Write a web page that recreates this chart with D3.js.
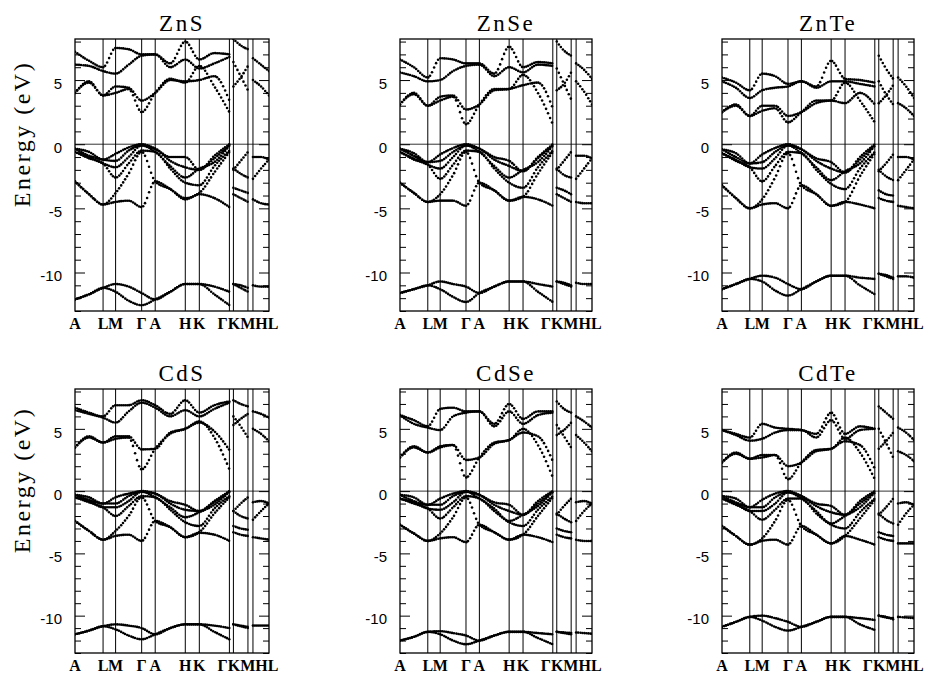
<!DOCTYPE html>
<html>
<head>
<meta charset="utf-8">
<script src="https://cdn.jsdelivr.net/npm/d3@7"></script>
<style>
  body { margin: 0; background: #fff; }
  text { fill: #000; }
</style>
</head>
<body>
<svg id="chart" width="925" height="673"></svg>
<script>
// k path of the wurtzite zone, relative distances along the path
const kLabels = ["A", "L", "M", "Γ", "A", "H", "K", "Γ", "K", "M", "H", "L"];
const kPos = [0, 28, 40.5, 66.5, 80, 110, 124, 154, 158, 172.5, 177.5, 193.5];

const kMain = [0, 14, 28, 40.5, 53.5, 66.5, 80, 95, 110, 124, 139, 154];  // A..Γ
const kKM = [158, 165.25, 172.5];   // K..M
const kHL = [177.5, 185.5, 193.5];  // H..L

const energyTicks = [5, 0, -5, -10];

// energies in eV; main path: A, A-L, L, M, M-Γ, Γ, A, A-H, H, K, K-Γ, Γ
const znsMain = [
  [-12.1, -11.7, -11.2, -10.9, -11.1, -11.6, -12.1, -11.5, -10.9, -10.9, -11.1, -11.5],
  [-12.1, -11.7, -11.2, -11.5, -12.2, -12.55, -12.1, -11.5, -10.9, -10.9, -11.7, -12.55],
  [-0.35, -0.6, -1.2, -0.75, -0.25, 0.0, -0.35, -1.0, -1.0, -2.0, -0.9, 0.0],
  [-0.35, -0.9, -1.2, -1.3, -0.5, -0.1, -0.35, -1.3, -1.8, -2.0, -1.1, -0.1],
  [-0.6, -1.0, -1.5, -1.8, -1.0, -0.1, -0.6, -1.7, -2.6, -1.9, -1.4, -0.1],
  [-0.6, -1.1, -1.5, -2.6, -1.5, -0.5, -0.6, -1.9, -3.0, -3.2, -1.7, -0.5],
  [-2.9, -3.9, -4.7, -3.8, -2.3, -0.6, -2.9, -3.5, -4.2, -3.8, -2.2, -0.6],
  [-2.9, -3.9, -4.7, -4.5, -4.4, -4.9, -2.9, -3.5, -4.3, -3.9, -4.2, -4.9],
  [4.0, 4.9, 3.8, 4.0, 4.3, 2.5, 4.0, 5.1, 4.8, 6.1, 4.5, 2.5],
  [4.0, 4.8, 3.8, 4.5, 4.4, 3.4, 4.0, 5.0, 4.9, 5.0, 5.3, 3.4],
  [6.2, 6.1, 5.7, 5.5, 6.2, 6.9, 7.0, 6.0, 6.6, 5.9, 6.3, 6.8],
  [7.2, 6.5, 6.0, 7.5, 7.4, 7.0, 7.0, 6.3, 8.0, 6.6, 7.1, 7.0]
];
const znsKM = [
  [-10.9, -11.0, -11.2], [-10.9, -11.2, -11.5],
  [-2.0, -1.3, -0.6], [-1.9, -2.3, -2.6], [-3.4, -3.6, -3.8], [-3.9, -4.2, -4.5],
  [8.2, 7.7, 7.4], [6.4, 5.3, 4.2], [4.5, 5.2, 6.1]
];
const znsHL = [
  [-11.0, -11.1, -11.1],
  [-1.0, -1.0, -1.2], [-2.7, -1.9, -1.2], [-4.3, -4.6, -4.7],
  [6.7, 6.2, 5.7], [5.0, 4.5, 3.8]
];

const znseMain = [
  [-11.6, -11.3, -11.0, -10.7, -10.9, -11.1, -11.6, -11.1, -10.7, -10.7, -10.9, -11.1],
  [-11.6, -11.3, -11.0, -11.3, -11.9, -12.3, -11.6, -11.1, -10.7, -10.7, -11.5, -12.3],
  [-0.35, -0.7, -1.4, -0.8, -0.3, 0.0, -0.35, -1.0, -1.3, -2.1, -1.0, 0.0],
  [-0.35, -0.9, -1.4, -1.3, -0.6, -0.1, -0.35, -1.2, -1.7, -2.1, -1.1, -0.1],
  [-0.6, -1.1, -1.6, -1.9, -1.0, -0.1, -0.6, -1.7, -2.6, -2.0, -1.4, -0.1],
  [-0.6, -1.2, -1.6, -2.7, -1.6, -0.5, -0.6, -1.9, -3.0, -3.4, -1.8, -0.5],
  [-3.0, -3.8, -4.5, -3.9, -2.4, -0.6, -3.0, -3.6, -4.4, -4.1, -2.3, -0.6],
  [-3.0, -3.8, -4.5, -4.4, -4.4, -4.8, -3.0, -3.6, -4.4, -4.1, -4.3, -4.8],
  [3.1, 4.0, 3.0, 3.4, 3.7, 1.55, 3.1, 4.3, 4.3, 5.4, 4.0, 1.55],
  [3.1, 3.9, 3.0, 3.7, 3.8, 2.7, 3.1, 4.2, 4.3, 4.6, 4.8, 2.8],
  [5.6, 5.3, 4.9, 5.0, 5.7, 6.1, 6.2, 5.3, 6.0, 5.6, 6.2, 6.1],
  [6.6, 6.0, 5.2, 6.7, 6.6, 6.3, 6.3, 5.5, 7.6, 6.0, 6.4, 6.3]
];
const znseKM = [
  [-10.7, -10.8, -11.0], [-10.7, -10.9, -11.1],
  [-2.0, -1.3, -0.6], [-1.9, -2.4, -2.6], [-3.4, -3.6, -3.9], [-3.9, -4.2, -4.5],
  [8.0, 7.3, 6.9], [5.9, 4.7, 3.5], [4.2, 4.7, 5.6]
];
const znseHL = [
  [-10.8, -10.9, -10.9],
  [-0.9, -0.9, -1.1], [-2.7, -1.9, -1.1], [-4.5, -4.6, -4.6],
  [6.3, 5.8, 5.1], [4.9, 4.1, 3.1]
];

const zntaMain = [
  [-11.3, -10.9, -10.5, -10.25, -10.4, -10.9, -11.3, -10.7, -10.25, -10.25, -10.4, -10.5],
  [-11.3, -10.9, -10.5, -10.7, -11.4, -11.8, -11.3, -10.7, -10.25, -10.25, -11.0, -11.7],
  [-0.4, -0.7, -1.5, -0.8, -0.3, 0.0, -0.4, -1.1, -1.4, -2.2, -1.0, 0.0],
  [-0.4, -1.0, -1.5, -1.4, -0.6, -0.1, -0.4, -1.3, -1.9, -2.2, -1.2, -0.1],
  [-0.7, -1.2, -1.8, -1.9, -1.1, -0.1, -0.7, -1.8, -2.8, -2.1, -1.5, -0.1],
  [-0.7, -1.3, -1.8, -2.9, -1.7, -0.6, -0.7, -2.0, -3.1, -3.5, -1.9, -0.6],
  [-3.2, -4.2, -5.0, -4.3, -2.6, -0.7, -3.2, -3.9, -4.8, -4.5, -2.5, -0.7],
  [-3.2, -4.2, -5.0, -4.7, -4.6, -5.0, -3.2, -3.9, -4.8, -4.5, -4.7, -5.0],
  [2.5, 3.1, 2.2, 2.6, 2.8, 1.7, 2.5, 3.4, 3.4, 4.8, 3.4, 1.7],
  [2.5, 3.0, 2.2, 3.0, 3.0, 2.2, 2.5, 3.2, 3.4, 3.2, 4.0, 3.1],
  [4.9, 4.4, 3.6, 4.2, 4.4, 4.5, 4.9, 4.4, 4.9, 4.9, 4.7, 4.5],
  [5.2, 4.8, 4.2, 5.5, 5.3, 4.7, 4.9, 4.5, 6.5, 5.1, 5.0, 4.8]
];
const zntaKM = [
  [-10.1, -10.3, -10.5], [-10.1, -10.2, -10.4],
  [-2.1, -1.5, -0.8], [-2.0, -2.5, -2.8], [-3.6, -3.9, -4.0], [-4.2, -4.4, -4.5],
  [6.9, 5.9, 5.1], [4.9, 3.9, 3.1], [3.2, 3.8, 4.6]
];
const zntaHL = [
  [-10.3, -10.3, -10.4],
  [-1.0, -1.0, -1.2], [-2.8, -2.0, -1.2], [-4.8, -4.9, -5.0],
  [5.2, 4.5, 3.6], [3.2, 2.8, 2.2]
];

const cdsMain = [
  [-11.5, -11.2, -10.85, -10.7, -10.8, -11.0, -11.5, -11.0, -10.7, -10.7, -10.8, -11.0],
  [-11.5, -11.2, -10.85, -11.1, -11.6, -11.9, -11.5, -11.0, -10.7, -10.7, -11.3, -11.9],
  [-0.3, -0.5, -1.0, -0.5, -0.2, 0.0, -0.2, -0.8, -1.1, -1.6, -0.8, 0.0],
  [-0.3, -0.7, -1.0, -1.0, -0.4, -0.05, -0.2, -1.0, -1.5, -1.6, -0.9, -0.05],
  [-0.5, -0.8, -1.3, -1.3, -0.8, -0.05, -0.5, -1.3, -2.1, -1.7, -1.1, -0.05],
  [-0.5, -0.9, -1.3, -2.0, -1.2, -0.4, -0.5, -1.5, -2.5, -2.8, -1.4, -0.4],
  [-2.4, -3.2, -3.9, -3.2, -2.0, -0.5, -2.4, -2.9, -3.7, -3.3, -1.8, -0.5],
  [-2.4, -3.2, -3.9, -3.6, -3.5, -4.0, -2.4, -2.9, -3.7, -3.35, -3.5, -4.0],
  [3.5, 4.4, 3.9, 4.2, 4.3, 1.75, 3.4, 4.6, 5.0, 5.6, 4.3, 1.75],
  [3.5, 4.3, 3.9, 4.4, 4.4, 3.35, 3.4, 4.7, 5.0, 5.5, 4.8, 3.3],
  [6.5, 6.2, 5.9, 5.5, 6.4, 7.1, 6.7, 6.0, 6.5, 6.0, 6.6, 7.1],
  [6.7, 6.3, 6.0, 6.9, 6.9, 7.3, 6.9, 6.2, 7.3, 6.3, 6.9, 7.2]
];
const cdsKM = [
  [-10.7, -10.8, -10.9], [-10.7, -10.85, -11.0],
  [-1.6, -1.0, -0.5], [-1.6, -2.0, -2.2], [-2.8, -3.0, -3.1], [-3.3, -3.5, -3.6],
  [7.3, 7.0, 6.8], [6.0, 5.2, 4.3], [5.3, 5.8, 6.2]
];
const cdsHL = [
  [-10.8, -10.8, -10.8],
  [-0.9, -0.8, -1.0], [-2.3, -1.6, -1.0], [-3.7, -3.8, -3.9],
  [6.4, 6.2, 5.9], [5.0, 4.6, 4.0]
];

const cdseMain = [
  [-12.0, -11.7, -11.3, -11.25, -11.4, -11.6, -12.0, -11.6, -11.3, -11.3, -11.4, -11.5],
  [-12.0, -11.7, -11.3, -11.5, -12.0, -12.3, -12.0, -11.6, -11.3, -11.3, -11.8, -12.3],
  [-0.3, -0.5, -1.1, -0.6, -0.2, 0.0, -0.3, -0.9, -1.1, -1.9, -0.8, 0.0],
  [-0.3, -0.8, -1.1, -1.1, -0.4, -0.05, -0.3, -1.1, -1.6, -1.9, -1.0, -0.05],
  [-0.6, -0.9, -1.4, -1.5, -0.9, -0.05, -0.6, -1.4, -2.4, -1.9, -1.2, -0.05],
  [-0.6, -1.0, -1.4, -2.2, -1.3, -0.4, -0.6, -1.6, -2.5, -2.8, -1.5, -0.4],
  [-2.7, -3.4, -4.0, -3.4, -2.1, -0.5, -2.7, -3.3, -3.9, -3.5, -2.0, -0.5],
  [-2.7, -3.4, -4.0, -3.8, -3.7, -4.1, -2.7, -3.3, -3.9, -3.5, -3.7, -4.1],
  [2.7, 3.6, 3.1, 3.5, 3.7, 1.1, 2.7, 3.9, 4.1, 5.0, 3.7, 1.1],
  [2.7, 3.5, 3.1, 3.6, 3.7, 2.5, 2.7, 3.8, 4.1, 4.7, 4.4, 2.4],
  [6.1, 5.4, 5.1, 4.9, 6.0, 6.3, 6.4, 5.2, 6.4, 5.4, 6.1, 6.3],
  [6.1, 5.7, 5.2, 6.6, 6.7, 6.4, 6.4, 5.4, 7.0, 5.8, 6.4, 6.4]
];
const cdseKM = [
  [-11.3, -11.35, -11.4], [-11.3, -11.4, -11.5],
  [-1.9, -1.2, -0.6], [-1.8, -2.2, -2.5], [-3.0, -3.2, -3.3], [-3.5, -3.7, -3.8],
  [7.2, 6.6, 6.3], [5.3, 4.4, 3.5], [4.5, 4.9, 5.5]
];
const cdseHL = [
  [-11.35, -11.4, -11.45],
  [-0.9, -0.8, -1.0], [-2.4, -1.6, -1.0], [-3.9, -4.0, -4.0],
  [6.0, 5.6, 5.1], [4.5, 3.9, 3.2]
];

const cdteMain = [
  [-10.9, -10.5, -10.1, -10.0, -10.2, -10.5, -10.9, -10.5, -10.1, -10.1, -10.2, -10.35],
  [-10.9, -10.5, -10.1, -10.4, -10.9, -11.2, -10.9, -10.5, -10.1, -10.1, -10.7, -11.15],
  [-0.4, -0.6, -1.3, -0.7, -0.2, 0.0, -0.4, -1.0, -1.2, -1.9, -0.8, 0.0],
  [-0.4, -0.9, -1.3, -1.3, -0.5, -0.1, -0.4, -1.2, -1.7, -1.9, -1.0, -0.1],
  [-0.6, -1.0, -1.6, -1.6, -1.0, -0.1, -0.6, -1.6, -2.6, -2.0, -1.3, -0.1],
  [-0.6, -1.1, -1.6, -2.3, -1.5, -0.6, -0.6, -1.8, -2.7, -3.0, -1.7, -0.6],
  [-2.8, -3.6, -4.3, -3.8, -2.4, -0.7, -2.8, -3.5, -4.2, -3.6, -2.2, -0.7],
  [-2.8, -3.6, -4.3, -4.0, -3.9, -4.3, -2.8, -3.5, -4.2, -3.6, -3.9, -4.3],
  [2.3, 3.1, 2.6, 2.7, 2.9, 0.95, 2.3, 3.3, 3.4, 4.3, 3.1, 0.95],
  [2.3, 3.0, 2.6, 2.9, 2.9, 2.0, 2.3, 3.2, 3.4, 4.0, 3.7, 1.8],
  [4.9, 4.5, 4.05, 4.2, 4.7, 4.9, 4.9, 4.3, 5.7, 4.2, 4.9, 5.0],
  [4.9, 4.6, 4.3, 5.4, 5.1, 5.0, 4.9, 4.6, 6.3, 4.6, 5.2, 5.0]
];
const cdteKM = [
  [-10.0, -10.1, -10.3], [-10.0, -10.15, -10.2],
  [-1.9, -1.3, -0.6], [-1.8, -2.3, -2.6], [-3.3, -3.5, -3.6], [-3.7, -3.9, -4.0],
  [6.8, 6.3, 5.8], [5.0, 3.9, 2.7], [3.4, 4.0, 4.7]
];
const cdteHL = [
  [-10.1, -10.15, -10.2],
  [-1.0, -0.9, -1.1], [-2.7, -1.8, -1.1], [-4.2, -4.2, -4.2],
  [5.1, 4.7, 4.1], [3.2, 2.9, 2.4]
];

const panels = [
  { name: "ZnS",  main: znsMain,  km: znsKM,  hl: znsHL,  col: 0, row: 0 },
  { name: "ZnSe", main: znseMain, km: znseKM, hl: znseHL, col: 1, row: 0 },
  { name: "ZnTe", main: zntaMain, km: zntaKM, hl: zntaHL, col: 2, row: 0 },
  { name: "CdS",  main: cdsMain,  km: cdsKM,  hl: cdsHL,  col: 0, row: 1 },
  { name: "CdSe", main: cdseMain, km: cdseKM, hl: cdseHL, col: 1, row: 1 },
  { name: "CdTe", main: cdteMain, km: cdteKM, hl: cdteHL, col: 2, row: 1 }
];

// layout
const colX = [[75, 269], [400, 592], [722, 914]];
const rowY = [[39, 311], [389, 653]];
const eMin = -13, eMax = 8.2;
const dotStep = 2.0, dotR = 1.3;

const svg = d3.select("#chart");
const probe = svg.append("path").attr("fill", "none").attr("stroke", "none");

// points of the drawn curve, one every dotStep px in x (like the original point plots)
function sampleCurve(ks, es, x, y) {
  const pts = ks.map((k, i) => [x(k), y(es[i])]);
  probe.attr("d", d3.line().curve(d3.curveMonotoneX)(pts));
  const node = probe.node();
  const len = node.getTotalLength();
  const out = [];
  let target = pts[0][0];
  for (let s = 0; s <= len; s += 0.4) {
    const p = node.getPointAtLength(s);
    if (p.x >= target - 0.01) { out.push([p.x, p.y]); target += dotStep; }
  }
  const last = pts[pts.length - 1];
  if (last[0] - out[out.length - 1][0] > dotStep * 0.5) out.push(last);
  return out;
}

panels.forEach((p, pi) => {
  const [x0, x1] = colX[p.col];
  const [y0, y1] = rowY[p.row];
  const x = d3.scaleLinear().domain([0, kPos[kPos.length - 1]]).range([x0, x1]);
  const y = d3.scaleLinear().domain([eMin, eMax]).range([y1, y0]);
  const g = svg.append("g");

  g.append("clipPath").attr("id", "clip" + pi)
    .append("rect").attr("x", x0).attr("y", y0).attr("width", x1 - x0).attr("height", y1 - y0);

  // symmetry lines
  g.selectAll("line.k").data(kPos.slice(1, -1)).join("line")
    .attr("x1", d => x(d)).attr("x2", d => x(d))
    .attr("y1", y0).attr("y2", y1)
    .attr("stroke", "#000").attr("stroke-width", 1);

  // Fermi level
  g.append("line")
    .attr("x1", x0).attr("x2", x1).attr("y1", y(0)).attr("y2", y(0))
    .attr("stroke", "#000").attr("stroke-width", 0.8);

  // inward ticks, both sides
  const minor = d3.range(-13, 9).filter(v => !energyTicks.includes(v));
  const mk = (axis, tx, vals, size, labels) => {
    const a = g.append("g").attr("transform", `translate(${tx},0)`)
      .call(axis(y).tickValues(vals).tickSizeInner(-size).tickSizeOuter(0)
        .tickPadding(13).tickFormat(labels ? (d => String(d)) : ""));
    a.select(".domain").remove();
    a.selectAll("line").attr("stroke-width", 1);
    a.selectAll("text").attr("dy", "0.55em")
      .style("font-family", "'Liberation Sans', Arial, sans-serif")
      .style("font-size", "15px");
  };
  mk(d3.axisLeft, x0, minor, 6, false);
  mk(d3.axisLeft, x0, energyTicks, 10, true);
  mk(d3.axisRight, x1, minor, 6, false);
  mk(d3.axisRight, x1, energyTicks, 10, false);

  // bands drawn as dotted point plots
  const bands = g.append("g").attr("clip-path", `url(#clip${pi})`);
  const sets = [[kMain, p.main], [kKM, p.km], [kHL, p.hl]];
  sets.forEach(([ks, list]) => {
    list.forEach(es => {
      bands.append("g").selectAll("circle")
        .data(sampleCurve(ks, es, x, y)).join("circle")
        .attr("cx", d => d[0]).attr("cy", d => d[1]).attr("r", dotR)
        .attr("fill", "#000");
    });
  });

  // frame
  g.append("rect").attr("x", x0).attr("y", y0)
    .attr("width", x1 - x0).attr("height", y1 - y0)
    .attr("fill", "none").attr("stroke", "#000").attr("stroke-width", 1.3);

  // k labels
  const lab = g.append("g")
    .style("font-family", "'Liberation Serif', 'Times New Roman', serif")
    .style("font-weight", "bold").style("font-size", "16px")
    .attr("text-anchor", "middle");
  lab.selectAll("text").data(kLabels.slice(0, 7)).join("text")
    .attr("x", (d, i) => x(kPos[i])).attr("y", y1 + 18).text(d => d);
  lab.append("text").attr("x", x(kPos[9])).attr("y", y1 + 18)
    .text(kLabels.slice(7).join(""));

  // compound name
  g.append("text").attr("x", (x0 + x1) / 2 + 10).attr("y", y0 - 8)
    .attr("text-anchor", "middle")
    .style("font-family", "'Liberation Serif', 'Times New Roman', serif")
    .style("font-size", "23px").style("letter-spacing", "2.5px")
    .text(p.name);

  if (p.col === 0) {
    g.append("text")
      .attr("transform", `translate(30,${(y0 + y1) / 2 - 41}) rotate(-90)`)
      .attr("text-anchor", "middle")
      .style("font-family", "'Liberation Serif', 'Times New Roman', serif")
      .style("font-size", "24px").style("letter-spacing", "2.5px")
      .text("Energy (eV)");
  }
});
probe.remove();
</script>
</body>
</html>
